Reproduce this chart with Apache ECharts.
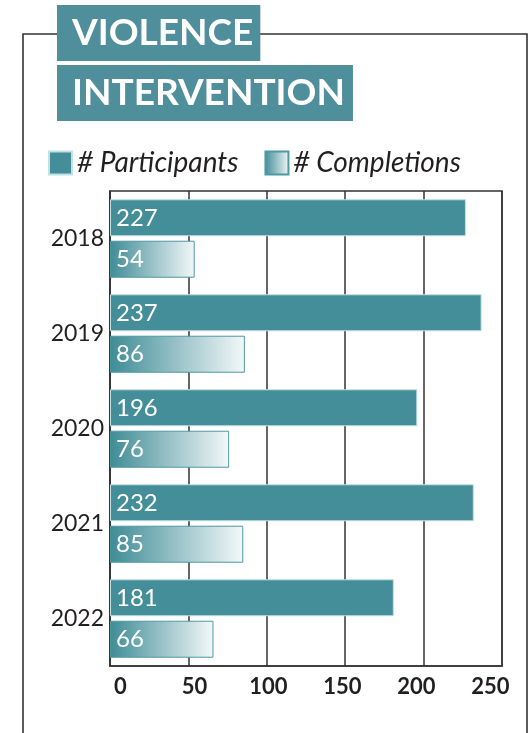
<!DOCTYPE html>
<html>
<head>
<meta charset="utf-8">
<script src="https://cdn.jsdelivr.net/npm/echarts@6/dist/echarts.min.js"></script>
<style>
html,body{margin:0;padding:0;background:#fff;}
#chart{width:529px;height:733px;}
</style>
</head>
<body>
<div id="chart"></div>
<script>
const years = ['2018', '2019', '2020', '2021', '2022'];
const participants = [227, 237, 196, 232, 181];
const completions = [54, 86, 76, 85, 66];
const xTicks = [0, 50, 100, 150, 200, 250];

const teal = '#438e98';
const dark = '#231f20';
const font = 'Lato';

const chart = echarts.init(document.getElementById('chart'), null, {renderer: 'canvas'});
chart.setOption({
  animation: false,
  backgroundColor: '#fff',
  graphic: [
    {type: 'rect', z: -10, shape: {x: 23, y: 34, width: 504, height: 760},
     style: {fill: 'none', stroke: '#333', lineWidth: 1.6}}
  ],
  title: [
    {text: 'VIOLENCE', left: 57, top: 5, backgroundColor: '#4e8f9b',
     padding: [6, 7, 6, 15],
     textStyle: {fontFamily: font, fontSize: 37, fontWeight: 'bold', color: '#fff', lineHeight: 44}},
    {text: 'INTERVENTION', left: 57, top: 65, backgroundColor: '#4e8f9b',
     padding: [6, 8, 6, 15],
     textStyle: {fontFamily: font, fontSize: 37, fontWeight: 'bold', color: '#fff', lineHeight: 44}}
  ],
  legend: {
    left: 48, top: 149, padding: 0, itemWidth: 23, itemHeight: 23, itemGap: 26,
    icon: 'rect',
    textStyle: {fontFamily: font, fontSize: 28, fontStyle: 'italic', color: dark, padding: [0, 0, 0, 0]},
    data: ['# Participants', '# Completions']
  },
  grid: {left: 110, right: 27, top: 191, bottom: 67, show: true, borderColor: '#333', borderWidth: 1.5, backgroundColor: 'transparent'},
  xAxis: [
    {type: 'value', min: 0, max: 250, interval: 50, position: 'bottom',
     axisLine: {show: true, lineStyle: {color: '#333', width: 1.5}},
     axisTick: {show: false}, axisLabel: {show: false},
     splitLine: {show: true, lineStyle: {color: '#333', width: 1.5}}},
    {type: 'value', min: -7.03, max: 257.8, position: 'bottom',
     axisLine: {show: false}, axisTick: {show: false, customValues: xTicks},
     splitLine: {show: false},
     axisLabel: {customValues: xTicks, margin: 10, fontFamily: font, fontSize: 22, fontWeight: 'bold', color: dark}}
  ],
  yAxis: {
    type: 'category', data: years, inverse: true,
    axisLine: {show: true, lineStyle: {color: '#333', width: 1.5}},
    axisTick: {show: false},
    axisLabel: {fontFamily: font, fontSize: 23, color: dark, margin: 6},
    splitLine: {show: false}
  },
  series: [
    {name: '# Participants', type: 'bar', xAxisIndex: 0, data: participants,
     barWidth: 37, barGap: '12%',
     itemStyle: {color: teal, borderColor: '#c3e0e3', borderWidth: 1},
     label: {show: true, position: 'insideLeft', distance: 6, color: '#fff', fontFamily: font, fontSize: 24}},
    {name: '# Completions', type: 'bar', xAxisIndex: 0, data: completions,
     barWidth: 37, barGap: '12%',
     itemStyle: {
       color: new echarts.graphic.LinearGradient(0, 0, 1, 0, [
         {offset: 0, color: '#3f8c96'}, {offset: 1, color: '#f3f8f9'}
       ]),
       borderColor: '#4f98a2', borderWidth: 1
     },
     label: {show: true, position: 'insideLeft', distance: 6, color: '#fff', fontFamily: font, fontSize: 24}}
  ]
});
</script>
</body>
</html>
